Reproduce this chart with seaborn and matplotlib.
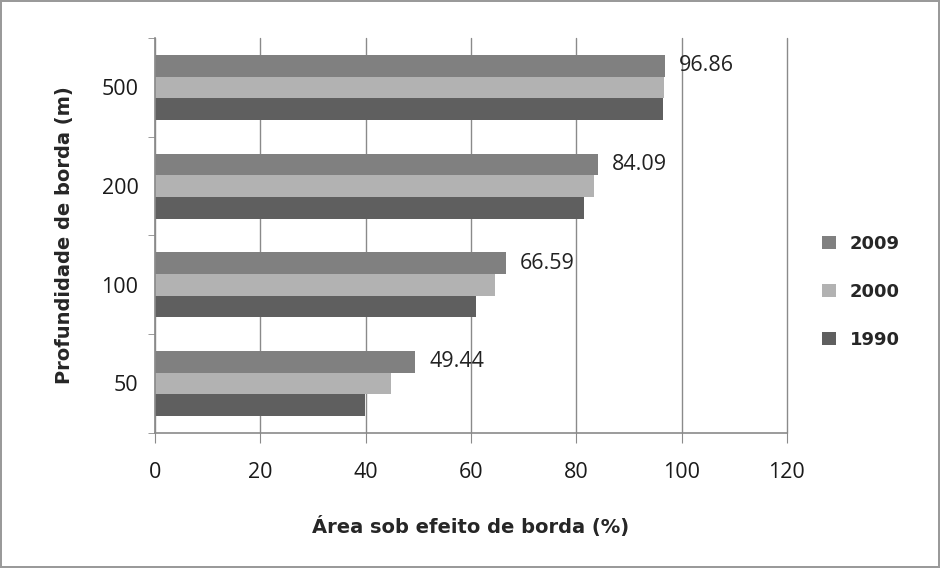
import seaborn as sns
import pandas as pd
import matplotlib.pyplot as plt
from matplotlib.ticker import FixedLocator

# valores (% da area sob efeito de borda)
profundidades = ['500', '200', '100', '50']
anos = ['2009', '2000', '1990']
v2009 = [96.86, 84.09, 66.59, 49.44]
v2000 = [96.7, 83.4, 64.6, 44.8]
v1990 = [96.4, 81.5, 60.9, 39.9]
cores = ['#808080', '#b2b2b2', '#5f5f5f']

df = pd.DataFrame({
    'profundidade': profundidades * 3,
    'ano': [a for a in anos for _ in profundidades],
    'area': v2009 + v2000 + v1990,
})

sns.set_style('white')
plt.rcParams['font.family'] = ['Open Sans', 'DejaVu Sans']

fig = plt.figure(figsize=(9.4, 5.68), dpi=100)
fig.patch.set_edgecolor('#9a9a9a')
fig.patch.set_linewidth(1.5)
ax = fig.add_axes([0.165, 0.238, 0.672, 0.695])

sns.barplot(data=df, y='profundidade', x='area', hue='ano', order=profundidades,
            hue_order=anos, palette=cores, orient='h', width=0.66, saturation=1,
            edgecolor='none', ax=ax)

# rotulo so na serie 2009
ax.bar_label(ax.containers[0], labels=[f'{v:.2f}' for v in v2009], padding=10,
             fontsize=15.5, color='#222222')

ax.set_xlim(0, 120)
ax.set_xticks(range(0, 121, 20))
ax.set_ylim(3.5, -0.5)
ax.yaxis.set_minor_locator(FixedLocator([-0.5, 0.5, 1.5, 2.5, 3.5]))
ax.grid(axis='x', color='#8a8a8a', linewidth=1)
for g in ax.get_xgridlines():
    g.set_clip_on(False)
ax.set_axisbelow(True)
for s in ['top', 'right']:
    ax.spines[s].set_visible(False)
for s in ['left', 'bottom']:
    ax.spines[s].set_color('#8a8a8a')
    ax.spines[s].set_linewidth(1.2)

ax.tick_params(axis='x', bottom=True, length=7, color='#8a8a8a', pad=14,
               labelsize=15.5, labelcolor='#1a1a1a')
ax.tick_params(axis='y', which='major', left=False, length=0, pad=12,
               labelsize=15.5, labelcolor='#1a1a1a')
ax.tick_params(axis='y', which='minor', left=True, length=5, color='#8a8a8a')

ax.set_xlabel('Área sob efeito de borda (%)', fontsize=14, fontweight='bold',
              family='DejaVu Sans', labelpad=24)
ax.set_ylabel('Profundidade de borda (m)', fontsize=14, fontweight='bold',
              family='DejaVu Sans', labelpad=20)

leg = ax.legend(loc='center left', bbox_to_anchor=(1.03, 0.357), frameon=False,
                handlelength=0.75, handleheight=0.75, labelspacing=1.65,
                handletextpad=0.8,
                prop={'size': 13, 'weight': 'bold', 'family': 'DejaVu Sans'})

plt.savefig('out.png', dpi=100)
